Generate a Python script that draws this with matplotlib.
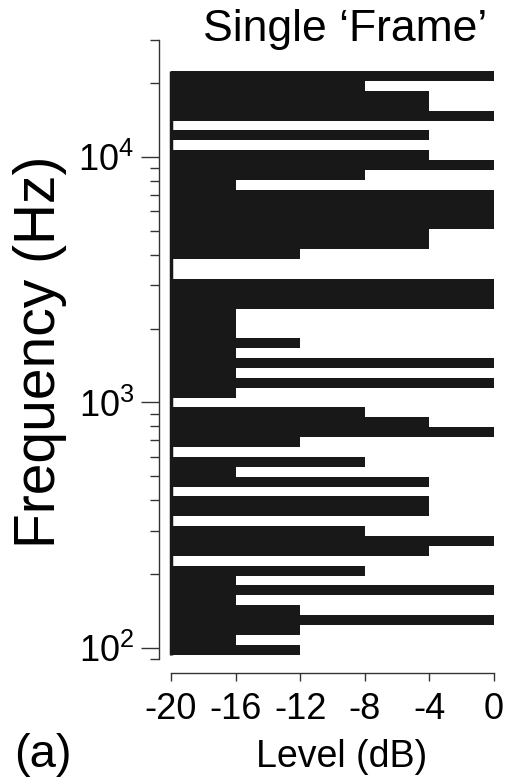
import numpy as np
import matplotlib
matplotlib.use("Agg")
import matplotlib.pyplot as plt
from matplotlib.ticker import NullFormatter

plt.rcParams['font.family'] = ['Liberation Sans', 'DejaVu Sans']
plt.rcParams['mathtext.default'] = 'regular'
plt.rcParams['axes.unicode_minus'] = False

# channel levels (dB), read from the top channel (highest frequency) downwards
levels_top_down = [0, -8, -4, -4, 0, -20, -4, -20, -4, 0,
                   -8, -16, 0, 0, 0, 0, -4, -4, -12, -20,
                   -20, 0, 0, 0, -16, -16, -16, -12, -16, 0,
                   -16, 0, -16, -20, -8, -4, 0, -12, -20, -8,
                   -16, -4, -20, -4, -4, -20, -8, 0, -4, -20,
                   -8, -16, 0, -16, -12, 0, -12, -16, -12]
f_low = 93.7      # lower edge of lowest channel (Hz)
f_high = 22400.0  # upper edge of highest channel (Hz)
level_ticks = [-20, -16, -12, -8, -4, 0]

levels = np.array(levels_top_down[::-1])
# channels are equally wide on a log frequency axis
edges = np.geomspace(f_low, f_high, len(levels) + 1)

fig = plt.figure(figsize=(5.10, 7.77), dpi=100)
ax = fig.add_axes([171 / 510, 1 - 659 / 777, 323 / 510, 619 / 777])

bar_col = '#181818'
# one filled staircase, so no seams between neighbouring channels
ax.stairs(levels, edges, orientation='horizontal', baseline=-20, fill=True,
          color=bar_col)
ax.vlines(-20, f_low, f_high, color=bar_col, lw=2.5, clip_on=False)

ax.set_yscale('log')
ax.set_ylim(90, 30000)
ax.set_xlim(-20, 0)
ax.set_xticks(level_ticks)
ax.set_xticklabels([str(v) for v in level_ticks])
ax.yaxis.set_minor_formatter(NullFormatter())

for s in ['top', 'right']:
    ax.spines[s].set_visible(False)
ax.spines['left'].set_position(('outward', 8.6))
ax.spines['bottom'].set_position(('outward', 10))
for s in ['left', 'bottom']:
    ax.spines[s].set_color('#333333')
    ax.spines[s].set_linewidth(1.0)

ax.tick_params(axis='y', which='major', length=13, width=1.0, color='#333333',
               labelsize=26, pad=5)
ax.tick_params(axis='y', which='minor', length=6.5, width=1.0, color='#333333')
ax.tick_params(axis='x', which='major', length=6, width=1.0, color='#333333',
               labelsize=26, pad=8)

fig.text(345 / 510, 1 - 30 / 777, u'Single \u2018Frame\u2019', fontsize=32,
         ha='center', va='center')
fig.text(40 / 510, 1 - 352 / 777, 'Frequency (Hz)', fontsize=41,
         rotation=90, ha='center', va='center')
fig.text(342 / 510, 1 - 757 / 777, 'Level (dB)', fontsize=27,
         ha='center', va='center')
fig.text(43 / 510, 1 - 755 / 777, '(a)', fontsize=34, ha='center', va='center')

fig.savefig('out.png', dpi=100)
